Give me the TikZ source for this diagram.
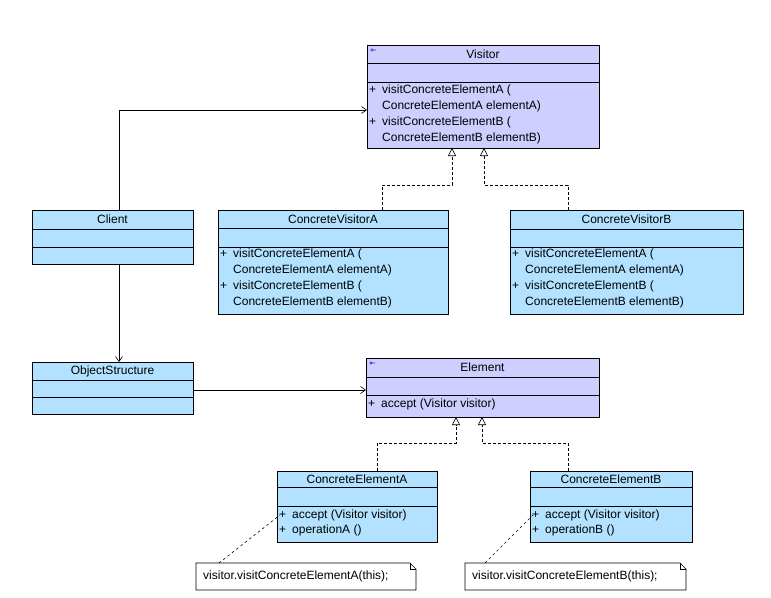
\documentclass[tikz,border=0pt]{standalone}
\usepackage{fontspec}
\setmainfont{Liberation Sans}
\usetikzlibrary{arrows.meta,calc}
\definecolor{cblue}{RGB}{178,226,255}
\definecolor{cpurple}{RGB}{206,206,255}
\definecolor{iconblue}{RGB}{40,40,220}
\newcommand\mkclass[9]{%
  \node[clsbox,fill=#8,minimum width=#4,minimum height=#5,anchor=north west] (#1) at (#2,#3) {};
  \draw[clsline] ($(#1.north west)+(0,#6)$) -- ($(#1.north east)+(0,#6)$);
  \draw[clsline] ($(#1.north west)+(0,#7)$) -- ($(#1.north east)+(0,#7)$);
  \node[ttl] at ($(#1.north)+(0,#6/2)$) {#9};}
\newcommand\mop[3]{%
  \node[mth] at ($(#1.north west)+(2,#2)$) {+};
  \node[mth] at ($(#1.north west)+(15,#2)$) {#3};}
\newcommand\mcont[3]{%
  \node[mth] at ($(#1.north west)+(15,#2)$) {#3};}
\newcommand\mkicon[1]{%
  \draw[iconblue,line width=0.6pt] ($(#1.north west)+(5,5)$) circle[radius=1.3] ($(#1.north west)+(6.3,5)$) -- ($(#1.north west)+(9,5)$);}
\begin{document}
\begin{tikzpicture}[x=1pt,y=-1pt,
  font=\fontsize{12}{14}\selectfont,
  clsbox/.style={draw=black,line width=0.8pt,inner sep=0pt,outer sep=0pt},
  clsline/.style={line width=0.7pt},
  ttl/.style={inner sep=0pt,anchor=center},
  mth/.style={inner sep=0pt,anchor=west},
  assoc/.style={line width=0.7pt,-{Straight Barb[length=5pt,width=7pt,line width=0.6pt]}},
  impl/.style={line width=0.7pt,dashed,dash pattern=on 3pt off 2pt,-{Triangle[open,length=8pt,width=8pt,line width=0.6pt]}},
  notelink/.style={line width=0.6pt,dash pattern=on 2.5pt off 3pt},
  notebox/.style={inner sep=0pt,outer sep=0pt,minimum width=220,minimum height=27,anchor=north west}]
\fill[white] (0,0) rectangle (771,597);
\useasboundingbox (0,0) rectangle (771,597);

% classes
\mkclass{visitor}{367}{45}{232}{103}{18}{37}{cpurple}{Visitor}
\mkicon{visitor}
\mop{visitor}{45}{visitConcreteElementA (}
\mcont{visitor}{61}{ConcreteElementA elementA)}
\mop{visitor}{77}{visitConcreteElementB (}
\mcont{visitor}{93}{ConcreteElementB elementB)}

\mkclass{client}{32}{210}{161}{54}{19}{37}{cblue}{Client}

\mkclass{cva}{218}{210}{230}{104}{18}{37}{cblue}{ConcreteVisitorA}
\mop{cva}{44}{visitConcreteElementA (}
\mcont{cva}{60}{ConcreteElementA elementA)}
\mop{cva}{76}{visitConcreteElementB (}
\mcont{cva}{92}{ConcreteElementB elementB)}

\mkclass{cvb}{510}{210}{233}{104}{19}{37}{cblue}{ConcreteVisitorB}
\mop{cvb}{44}{visitConcreteElementA (}
\mcont{cvb}{60}{ConcreteElementA elementA)}
\mop{cvb}{76}{visitConcreteElementB (}
\mcont{cvb}{92}{ConcreteElementB elementB)}

\mkclass{os}{32}{362}{161}{52}{18}{35}{cblue}{ObjectStructure}

\mkclass{element}{366}{358}{233}{59}{19}{37}{cpurple}{Element}
\mkicon{element}
\mop{element}{46}{accept (Visitor visitor)}

\mkclass{cea}{277}{471}{160}{71}{16}{35}{cblue}{ConcreteElementA}
\mop{cea}{44}{accept (Visitor visitor)}
\mop{cea}{59}{operationA ()}

\mkclass{ceb}{530}{471}{162}{71}{16}{35}{cblue}{ConcreteElementB}
\mop{ceb}{44}{accept (Visitor visitor)}
\mop{ceb}{59}{operationB ()}

% notes
\node[notebox] (noteA) at (196,563) {};
\node[notebox,minimum width=221] (noteB) at (465,563) {};
\foreach \n in {noteA,noteB}{
  \draw[line width=0.6pt,fill=white] (\n.north west) -- ($(\n.north east)+(-6,0)$) -- ($(\n.north east)+(0,6)$) -- (\n.south east) -- (\n.south west) -- cycle;
  \draw[line width=0.5pt] ($(\n.north east)+(-6,0)$) -- ($(\n.north east)+(-6,6)$) -- ($(\n.north east)+(0,6)$);
}
\node[mth] at ($(noteA.west)+(7,0)$) {visitor.visitConcreteElementA(this);};
\node[mth] at ($(noteB.west)+(7,0)$) {visitor.visitConcreteElementB(this);};

% connectors
\draw[assoc] ($(client.north)+(6.5,0)$) |- ($(visitor.west)+(0,13.5)$);
\draw[assoc] ($(client.south)+(6.5,0)$) -- ($(os.north)+(6.5,0)$);
\draw[assoc] ($(os.east)+(0,2)$) -- ($(element.west)+(0,2.5)$);

\draw[impl] ($(cva.north)+(49,0)$) |- ($(visitor.south)+(-31,37)$) -- ($(visitor.south)+(-31,0)$);
\draw[impl] ($(cvb.north)+(-58.5,0)$) |- ($(visitor.south)+(1,37)$) -- ($(visitor.south)+(1,0)$);

\draw[impl] ($(cea.north)+(20,0)$) |- ($(element.south)+(-26.5,26)$) -- ($(element.south)+(-26.5,0)$);
\draw[impl] ($(ceb.north)+(-43,0)$) |- ($(element.south)+(-0.5,26)$) -- ($(element.south)+(-0.5,0)$);

\draw[notelink] ($(noteA.north west)+(23,0)$) -- ($(cea.west)+(3,8.5)$);
\draw[notelink] ($(noteB.north west)+(20,0)$) -- ($(ceb.west)+(3,8.5)$);
\end{tikzpicture}
\end{document}
